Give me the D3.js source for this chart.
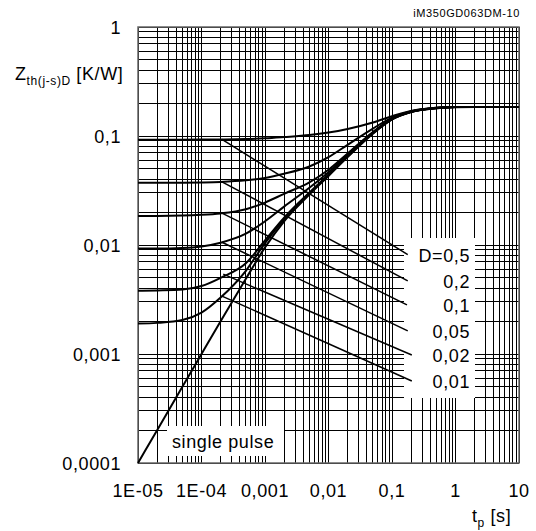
<!DOCTYPE html>
<html>
<head>
<meta charset="utf-8">
<script src="https://cdn.jsdelivr.net/npm/d3@7"></script>
<style>
  body { margin: 0; background: #fff; }
  text { font-family: "Liberation Sans", Arial, sans-serif; fill: #000; letter-spacing: 0.6px; }
</style>
</head>
<body>
<div id="chart"></div>
<script>
//Chart values
var tp = [1e-5, 2e-5, 5e-5, 1e-4, 2e-4, 5e-4, 1e-3, 2e-3, 5e-3, 1e-2, 2e-2, 5e-2, 0.1, 0.2, 0.5, 1, 2, 5, 10];
var zSingle = [0.0001, 0.0002, 0.0005, 0.001, 0.002, 0.0049, 0.0095, 0.0165, 0.029, 0.043, 0.064, 0.105, 0.142, 0.166, 0.180, 0.184, 0.185, 0.185, 0.185];
var zD001 = [0.0019, 0.00193, 0.00205, 0.0024, 0.0033, 0.0058, 0.0104, 0.0172, 0.0298, 0.0437, 0.0648, 0.1058, 0.1423, 0.1663, 0.1801, 0.1841, 0.185, 0.185, 0.185];
var zD002 = [0.0038, 0.00383, 0.0039, 0.0042, 0.0050, 0.0068, 0.0110, 0.0178, 0.0303, 0.0444, 0.0656, 0.1066, 0.1428, 0.1667, 0.1803, 0.1842, 0.185, 0.185, 0.185];
var zD005 = [0.0093, 0.0093, 0.0094, 0.0097, 0.0105, 0.0127, 0.0165, 0.0225, 0.0335, 0.0465, 0.0675, 0.1075, 0.1435, 0.1670, 0.1805, 0.1843, 0.185, 0.185, 0.185];
var zD01 = [0.0185, 0.0185, 0.0186, 0.0189, 0.0195, 0.0213, 0.0245, 0.0295, 0.0375, 0.0490, 0.0690, 0.1090, 0.1445, 0.1675, 0.1808, 0.1844, 0.185, 0.185, 0.185];
var zD02 = [0.0372, 0.0372, 0.0373, 0.0375, 0.0379, 0.0392, 0.0412, 0.0450, 0.0525, 0.0640, 0.0830, 0.1170, 0.1475, 0.1690, 0.1812, 0.1846, 0.185, 0.185, 0.185];
var zD05 = [0.0925, 0.0925, 0.0925, 0.0927, 0.0930, 0.0938, 0.0952, 0.0978, 0.1020, 0.1075, 0.1160, 0.1330, 0.1520, 0.1700, 0.1815, 0.1848, 0.185, 0.185, 0.185];

//Leader lines from the curves to the duty cycle labels
var dLabels = ["D=0,5", "0,2", "0,1", "0,05", "0,02", "0,01"];
var leadT0 = [2.1e-4, 2.1e-4, 2.1e-4, 2.1e-4, 2.2e-4, 2.1e-4];
var leadZ0 = [0.093, 0.038, 0.0196, 0.0106, 0.0054, 0.0034];
var leadT1 = [0.177, 0.177, 0.172, 0.177, 0.205, 0.205];
var leadZ1 = [0.00815, 0.00468, 0.00282, 0.00163, 0.00098, 0.000565];

var xTicks = [1e-5, 1e-4, 1e-3, 1e-2, 1e-1, 1, 10];
var xTickLabels = ["1E-05", "1E-04", "0,001", "0,01", "0,1", "1", "10"];
var yTicks = [1e-4, 1e-3, 1e-2, 1e-1, 1];
var yTickLabels = ["0,0001", "0,001", "0,01", "0,1", "1"];

//Sets up the svg and plot area
var width = 536, height = 531;
var plotLeft = 138, plotRight = 519, plotTop = 27, plotBottom = 463;
var svg = d3.select("#chart").append("svg").attr("width", width).attr("height", height);

var x = d3.scaleLog().domain([1e-5, 10]).range([plotLeft, plotRight]);
var y = d3.scaleLog().domain([1e-4, 1]).range([plotBottom, plotTop]);

//Grid lines at 1..9 of every decade
var xGrid = [], yGrid = [];
for (var e = -5; e < 1; e++) for (var m = 1; m < 10; m++) xGrid.push(m * Math.pow(10, e));
xGrid.push(10);
for (var e2 = -4; e2 < 0; e2++) for (var m2 = 1; m2 < 10; m2++) yGrid.push(m2 * Math.pow(10, e2));
yGrid.push(1);

var grid = svg.append("g").attr("stroke", "#000").attr("stroke-width", 1).attr("shape-rendering", "crispEdges");
grid.selectAll(".vx").data(xGrid).enter().append("line")
  .attr("x1", function(d) { return x(d); }).attr("x2", function(d) { return x(d); })
  .attr("y1", plotTop).attr("y2", plotBottom);
grid.selectAll(".hy").data(yGrid).enter().append("line")
  .attr("y1", function(d) { return y(d); }).attr("y2", function(d) { return y(d); })
  .attr("x1", plotLeft).attr("x2", plotRight);

//White label boxes that hide the grid
svg.append("rect").attr("x", 404).attr("y", 238).attr("width", 71).attr("height", 160).attr("fill", "#fff");
svg.append("rect").attr("x", 167).attr("y", 426).attr("width", 117).attr("height", 30).attr("fill", "#fff");

//Frame
svg.append("rect").attr("x", plotLeft).attr("y", plotTop).attr("width", plotRight - plotLeft).attr("height", plotBottom - plotTop)
  .attr("fill", "none").attr("stroke", "#666").attr("stroke-width", 1.5);

//Curves
var line = d3.line()
  .x(function(d) { return x(d[0]); })
  .y(function(d) { return y(d[1]); })
  .curve(d3.curveMonotoneX);

[zSingle, zD001, zD002, zD005, zD01, zD02, zD05].forEach(function(z) {
  svg.append("path")
    .datum(tp.map(function(t, i) { return [t, z[i]]; }))
    .attr("d", line)
    .attr("fill", "none")
    .attr("stroke", "#000")
    .attr("stroke-width", 2);
});

//Leader lines and labels
dLabels.forEach(function(lbl, i) {
  svg.append("line")
    .attr("x1", x(leadT0[i])).attr("y1", y(leadZ0[i]))
    .attr("x2", x(leadT1[i])).attr("y2", y(leadZ1[i]))
    .attr("stroke", "#000").attr("stroke-width", 1.5);
  svg.append("text")
    .attr("x", 470).attr("y", y(leadZ1[i]) + 7)
    .attr("text-anchor", "end")
    .style("font-size", "18px")
    .text(lbl);
});

svg.append("text").attr("x", 172).attr("y", 448).style("font-size", "18px").text("single pulse");

//Tick labels
svg.selectAll(".xt").data(xTicks).enter().append("text")
  .attr("x", function(d) { return x(d); }).attr("y", 497)
  .attr("text-anchor", "middle").style("font-size", "18px")
  .text(function(d, i) { return xTickLabels[i]; });
svg.selectAll(".yt").data(yTicks).enter().append("text")
  .attr("x", 121).attr("y", function(d) { return y(d) + 7; })
  .attr("text-anchor", "end").style("font-size", "18px")
  .text(function(d, i) { return yTickLabels[i]; });

//Axis titles and part number
var yt = svg.append("text").attr("x", 15).attr("y", 80).style("font-size", "18px");
yt.append("tspan").text("Z");
yt.append("tspan").attr("dy", 5).style("font-size", "12px").text("th(j-s)D");
yt.append("tspan").attr("dy", -5).text(" [K/W]");

var xt = svg.append("text").attr("x", 472).attr("y", 522).style("font-size", "18px");
xt.append("tspan").text("t");
xt.append("tspan").attr("dy", 5).style("font-size", "12px").text("p");
xt.append("tspan").attr("dy", -5).text(" [s]");

svg.append("text").attr("x", 520).attr("y", 17).attr("text-anchor", "end")
  .style("font-size", "11px").text("iM350GD063DM-10");
</script>
</body>
</html>
